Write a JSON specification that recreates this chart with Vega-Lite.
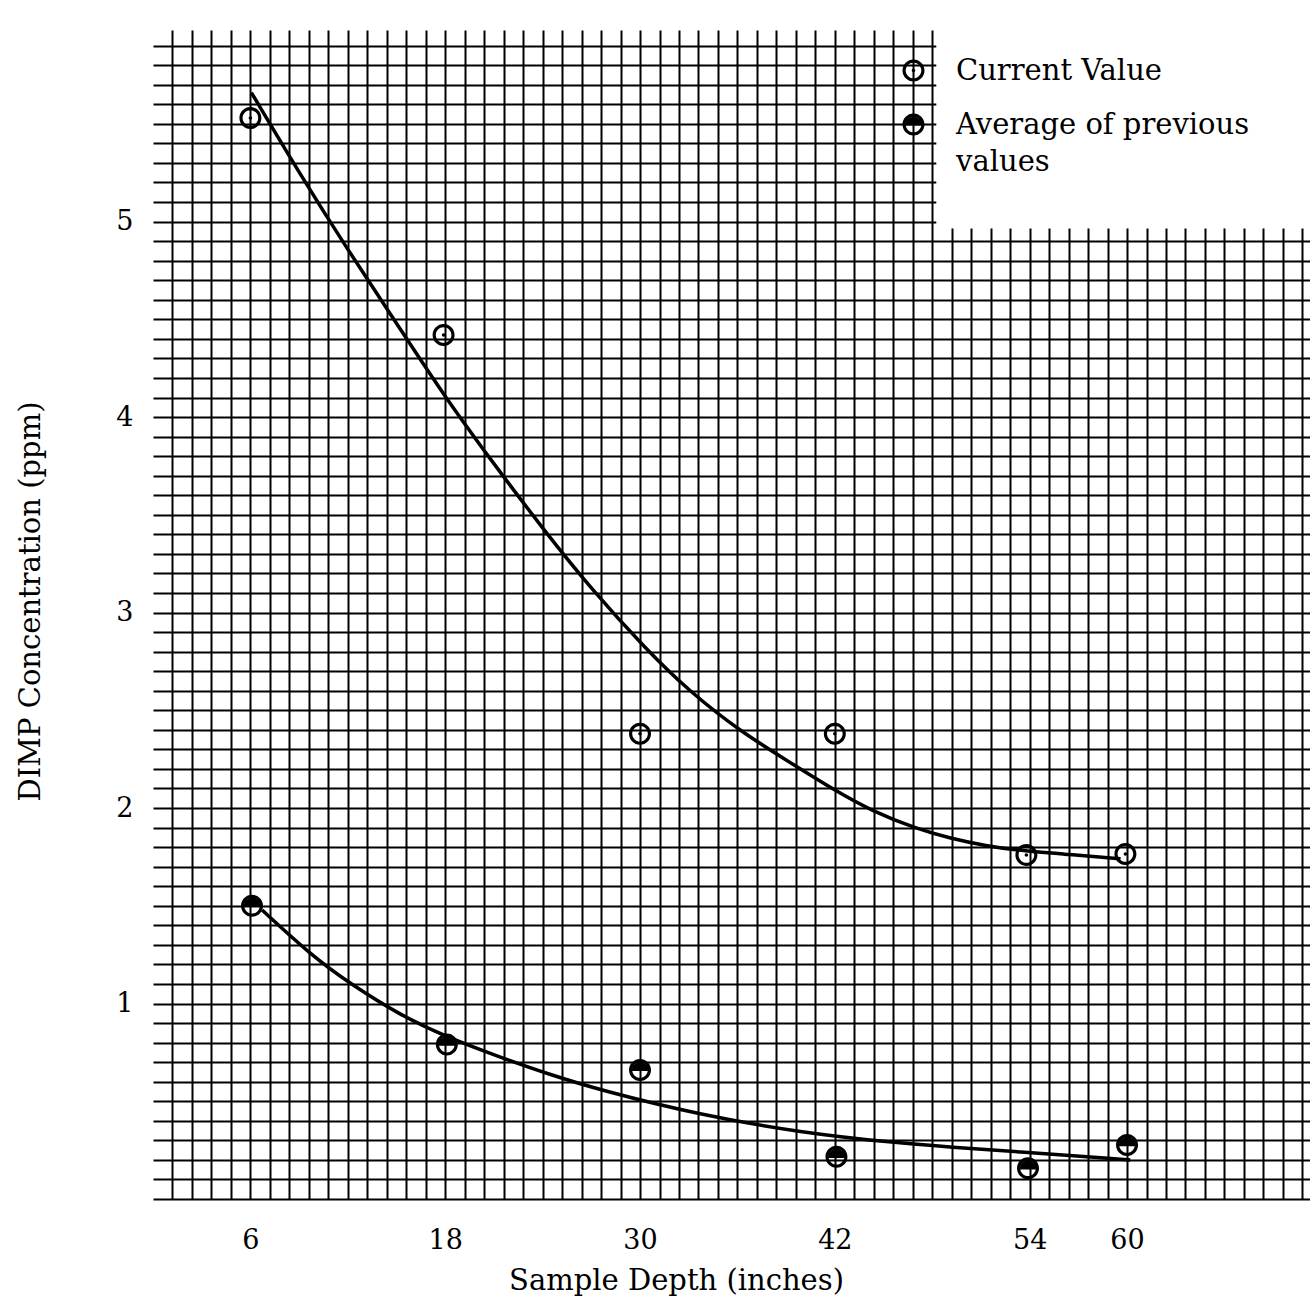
{
  "$schema": "https://vega.github.io/schema/vega-lite/v6.json",
  "width": 1157,
  "height": 1169,
  "autosize": {"type": "none"},
  "padding": {"left": 153, "top": 30, "right": 0, "bottom": 115},
  "background": "white",
  "config": {
    "view": {"stroke": null},
    "font": "DejaVu Serif",
    "axis": {
      "labelFont": "DejaVu Serif",
      "titleFont": "DejaVu Serif",
      "labelColor": "black",
      "titleColor": "black",
      "titleFontWeight": "normal",
      "gridColor": "black",
      "gridOpacity": 1,
      "gridWidth": 2,
      "ticks": false,
      "domain": false,
      "labelOverlap": false,
      "labelFlush": false
    },
    "legend": {
      "labelFont": "DejaVu Serif",
      "labelColor": "black"
    }
  },
  "datasets": {
    "points": [
      {"depth": 6, "ppm": 5.53, "series": "Current Value"},
      {"depth": 17.9, "ppm": 4.42, "series": "Current Value"},
      {"depth": 30, "ppm": 2.38, "series": "Current Value"},
      {"depth": 42, "ppm": 2.38, "series": "Current Value"},
      {"depth": 53.8, "ppm": 1.76, "series": "Current Value"},
      {"depth": 59.9, "ppm": 1.765, "series": "Current Value"},
      {"depth": 6.1, "ppm": 1.5, "series": "Average of previous values"},
      {"depth": 18.1, "ppm": 0.79, "series": "Average of previous values"},
      {"depth": 30, "ppm": 0.66, "series": "Average of previous values"},
      {"depth": 42.1, "ppm": 0.216, "series": "Average of previous values"},
      {"depth": 53.9, "ppm": 0.157, "series": "Average of previous values"},
      {"depth": 60, "ppm": 0.276, "series": "Average of previous values"}
    ],
    "curves": [
      {"depth": 6.06, "ppm": 5.66, "curve": "current"},
      {"depth": 9.0, "ppm": 5.25, "curve": "current"},
      {"depth": 11.96, "ppm": 4.86, "curve": "current"},
      {"depth": 15, "ppm": 4.48, "curve": "current"},
      {"depth": 18, "ppm": 4.1, "curve": "current"},
      {"depth": 21, "ppm": 3.76, "curve": "current"},
      {"depth": 24, "ppm": 3.43, "curve": "current"},
      {"depth": 27, "ppm": 3.12, "curve": "current"},
      {"depth": 30.4, "ppm": 2.81, "curve": "current"},
      {"depth": 33, "ppm": 2.6, "curve": "current"},
      {"depth": 36.2, "ppm": 2.39, "curve": "current"},
      {"depth": 39.5, "ppm": 2.22, "curve": "current"},
      {"depth": 42, "ppm": 2.09, "curve": "current"},
      {"depth": 44.4, "ppm": 1.98, "curve": "current"},
      {"depth": 47, "ppm": 1.895, "curve": "current"},
      {"depth": 49.1, "ppm": 1.845, "curve": "current"},
      {"depth": 51.4, "ppm": 1.805, "curve": "current"},
      {"depth": 53.1, "ppm": 1.785, "curve": "current"},
      {"depth": 56, "ppm": 1.765, "curve": "current"},
      {"depth": 59.6, "ppm": 1.74, "curve": "current"},
      {"depth": 6.72, "ppm": 1.478, "curve": "average"},
      {"depth": 9.7, "ppm": 1.25, "curve": "average"},
      {"depth": 12.16, "ppm": 1.1, "curve": "average"},
      {"depth": 15.24, "ppm": 0.94, "curve": "average"},
      {"depth": 18.05, "ppm": 0.83, "curve": "average"},
      {"depth": 21.4, "ppm": 0.725, "curve": "average"},
      {"depth": 24.5, "ppm": 0.635, "curve": "average"},
      {"depth": 27.56, "ppm": 0.557, "curve": "average"},
      {"depth": 33.7, "ppm": 0.43, "curve": "average"},
      {"depth": 39.9, "ppm": 0.34, "curve": "average"},
      {"depth": 46.0, "ppm": 0.285, "curve": "average"},
      {"depth": 49.1, "ppm": 0.266, "curve": "average"},
      {"depth": 53.2, "ppm": 0.242, "curve": "average"},
      {"depth": 60.2, "ppm": 0.2, "curve": "average"}
    ]
  },
  "encoding": {
    "x": {
      "type": "quantitative",
      "scale": {"domain": [0, 71.27], "nice": false, "zero": false},
      "axis": {
        "title": "Sample Depth (inches)",
        "values": [1.2,2.4,3.6,4.8,6,7.2,8.4,9.6,10.8,12,13.2,14.4,15.6,16.8,18,19.2,20.4,21.6,22.8,24,25.2,26.4,27.6,28.8,30,31.2,32.4,33.6,34.8,36,37.2,38.4,39.6,40.8,42,43.2,44.4,45.6,46.8,48,49.2,50.4,51.6,52.8,54,55.2,56.4,57.6,58.8,60,61.2,62.4,63.6,64.8,66,67.2,68.4,69.6,70.8],
        "labelExpr": "indexof([6,18,30,42,54,60], datum.value) >= 0 ? '' + datum.value : ''",
        "labelFontSize": 27,
        "labelPadding": 28,
        "titleFontSize": 29,
        "titlePadding": 13,
        "titleX": 523,
        "grid": true
      }
    },
    "y": {
      "type": "quantitative",
      "scale": {"domain": [0, 5.98], "nice": false, "zero": false},
      "axis": {
        "title": "DIMP Concentration (ppm)",
        "values": [0,0.1,0.2,0.3,0.4,0.5,0.6,0.7,0.8,0.9,1,1.1,1.2,1.3,1.4,1.5,1.6,1.7,1.8,1.9,2,2.1,2.2,2.3,2.4,2.5,2.6,2.7,2.8,2.9,3,3.1,3.2,3.3,3.4,3.5,3.6,3.7,3.8,3.9,4,4.1,4.2,4.3,4.4,4.5,4.6,4.7,4.8,4.9,5,5.1,5.2,5.3,5.4,5.5,5.6,5.7,5.8,5.9],
        "labelExpr": "indexof([1,2,3,4,5], datum.value) >= 0 ? '' + datum.value : ''",
        "labelFontSize": 27,
        "labelPadding": 20,
        "titleFontSize": 29,
        "titlePadding": 70,
        "titleY": 571,
        "grid": true
      }
    }
  },
  "layer": [
    {
      "data": {"values": [{}]},
      "mark": {"type": "rect", "fill": "white", "strokeWidth": 0, "opacity": 1},
      "encoding": {
        "x": {"datum": 48.25, "type": "quantitative"},
        "x2": {"datum": 71.27},
        "y": {"datum": 4.965, "type": "quantitative"},
        "y2": {"datum": 5.98}
      }
    },
    {
      "data": {"name": "curves"},
      "mark": {"type": "line", "color": "black", "strokeWidth": 3.5, "interpolate": "basis"},
      "encoding": {
        "x": {"field": "depth"},
        "y": {"field": "ppm"},
        "detail": {"field": "curve", "type": "nominal"}
      }
    },
    {
      "data": {"name": "points"},
      "mark": {"type": "point", "filled": true, "color": "black", "opacity": 1, "size": 484, "strokeWidth": 0},
      "encoding": {
        "x": {"field": "depth"},
        "y": {"field": "ppm"},
        "shape": {
          "field": "series",
          "type": "nominal",
          "scale": {
            "domain": ["Current Value", "Average of previous values"],
            "range": [
              "M0 -1A1 1 0 1 1 0 1A1 1 0 1 1 0 -1ZM0 -0.71A0.71 0.71 0 1 0 0 0.71A0.71 0.71 0 1 0 0 -0.71ZM0 -0.16A0.16 0.16 0 1 1 0 0.16A0.16 0.16 0 1 1 0 -0.16Z",
              "M0 -1A1 1 0 1 1 0 1A1 1 0 1 1 0 -1ZM0 -0.71A0.71 0.71 0 1 0 0 0.71A0.71 0.71 0 1 0 0 -0.71ZM-0.703 0.1A0.71 0.71 0 1 1 0.703 0.1Z"
            ]
          },
          "legend": {
            "title": null,
            "orient": "none",
            "legendX": 746,
            "legendY": 26,
            "padding": 0,
            "labelFontSize": 29,
            "labelBaseline": "top",
            "labelOffset": 28,
            "labelLimit": 0,
            "labelExpr": "datum.label == 'Average of previous values' ? ['Average of previous', 'values'] : datum.label",
            "symbolSize": 484,
            "symbolFillColor": "black",
            "symbolStrokeWidth": 0,
            "symbolOpacity": 1,
            "rowPadding": 24,
            "encoding": {
              "labels": {"dy": {"value": -14}, "lineHeight": {"value": 37}}
            }
          }
        }
      }
    }
  ]
}
